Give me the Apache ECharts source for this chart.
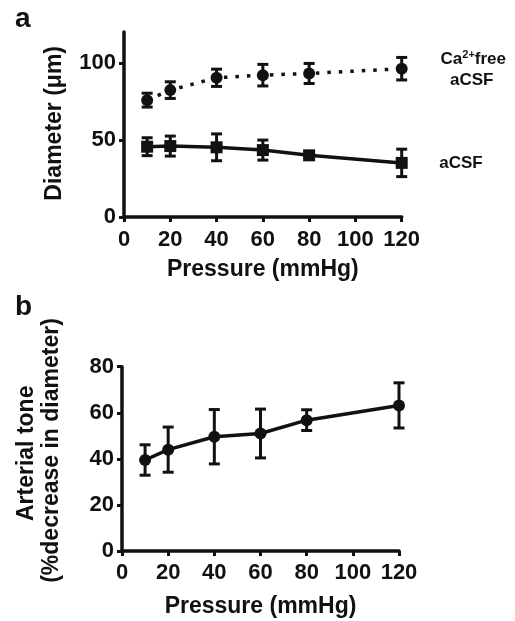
<!DOCTYPE html>
<html>
<head>
<meta charset="utf-8">
<script src="https://cdn.jsdelivr.net/npm/echarts@6/dist/echarts.min.js"></script>
<style>
html,body{margin:0;padding:0;background:#fff;}
#chart{width:515px;height:621px;}
</style>
</head>
<body>
<div id="chart"></div>
<script>
// ---- data ----
const pressure = [10, 20, 40, 60, 80, 120];
const caFreeMean = [75.8, 82.3, 90.3, 92, 93.1, 96.2];
const caFreeErr  = [4.5, 5.4, 5.6, 7, 6.5, 7.3];
const acsfMean   = [45.6, 46, 45.2, 43.4, 40, 35.1];
const acsfErr    = [5.8, 6.5, 8.7, 6.5, 1.5, 8.9];
const toneMean   = [39.5, 44, 49.6, 51, 56.8, 63.2];
const toneErr    = [6.6, 9.8, 11.8, 10.6, 4.5, 9.8];
const xTicks  = [0, 20, 40, 60, 80, 100, 120];
const yTicksA = [0, 50, 100];
const yTicksB = [0, 20, 40, 60, 80];
const labelA = 'a', labelB = 'b';
const xTitle = 'Pressure (mmHg)';
const yTitleA = 'Diameter (μm)';
const yTitleB1 = 'Arterial tone';
const yTitleB2 = '(%decrease in diameter)';

// ---- styling ----
const INK = '#111';
const FONT = 'Liberation Sans, Arial, Helvetica, sans-serif';

function pts(means) { return pressure.map((p, i) => [p, means[i]]); }
function errPts(means, errs) { return pressure.map((p, i) => [p, means[i], errs[i]]); }

function errRender(params, api) {
  const x = api.value(0), m = api.value(1), e = api.value(2);
  const top = api.coord([x, m + e]);
  const bot = api.coord([x, m - e]);
  const hw = 5.5;
  const style = { stroke: INK, lineWidth: 3 };
  return {
    type: 'group',
    children: [
      { type: 'line', shape: { x1: top[0], y1: top[1], x2: bot[0], y2: bot[1] }, style },
      { type: 'line', shape: { x1: top[0] - hw, y1: top[1], x2: top[0] + hw, y2: top[1] }, style },
      { type: 'line', shape: { x1: bot[0] - hw, y1: bot[1], x2: bot[0] + hw, y2: bot[1] }, style }
    ]
  };
}

function xAxisCfg(gridIndex, margin, gap) {
  return {
    type: 'value', gridIndex, min: 0, max: 120, interval: 20,
    axisLine: { show: true, onZero: false, lineStyle: { color: INK, width: 3.5 } },
    axisTick: { show: true, length: 5, lineStyle: { color: INK, width: 3 }, customValues: xTicks },
    axisLabel: { customValues: xTicks, margin, fontSize: 22, fontWeight: 'bold', color: INK, fontFamily: FONT },
    splitLine: { show: false },
    name: xTitle, nameLocation: 'middle', nameGap: gap,
    nameTextStyle: { fontSize: 23, fontWeight: 'bold', color: INK, fontFamily: FONT }
  };
}
function yAxisCfg(gridIndex, max, interval, ticks) {
  return {
    type: 'value', gridIndex, min: 0, max, interval,
    axisLine: { show: true, onZero: false, lineStyle: { color: INK, width: 3.5 } },
    axisTick: { show: true, length: 5, lineStyle: { color: INK, width: 3 }, customValues: ticks },
    axisLabel: { customValues: ticks, margin: 8, fontSize: 22, fontWeight: 'bold', color: INK, fontFamily: FONT },
    splitLine: { show: false }
  };
}
function txt(text, x, y, size, opts) {
  opts = opts || {};
  return {
    type: 'text', x, y, rotation: opts.rot || 0, silent: true,
    style: Object.assign({
      text, fill: INK, fontSize: size, fontWeight: 'bold', fontFamily: FONT,
      textAlign: opts.align || 'center', align: opts.align || 'center',
      textVerticalAlign: 'middle', verticalAlign: 'middle'
    }, opts.style || {})
  };
}

const chart = echarts.init(document.getElementById('chart'), null, { renderer: 'canvas' });
chart.setOption({
  animation: false,
  backgroundColor: '#fff',
  grid: [
    { left: 124, top: 32, width: 277.7, height: 185, outerBoundsMode: 'none', containLabel: false },
    { left: 122, top: 366.7, width: 277, height: 184.3, outerBoundsMode: 'none', containLabel: false }
  ],
  xAxis: [ xAxisCfg(0, 12, 41), xAxisCfg(1, 11, 43.7) ],
  yAxis: [ yAxisCfg(0, 120, 50, yTicksA), yAxisCfg(1, 80, 20, yTicksB) ],
  series: [
    { type: 'custom', xAxisIndex: 0, yAxisIndex: 0, renderItem: errRender,
      data: errPts(caFreeMean, caFreeErr), encode: { x: 0, y: 1 }, z: 2 },
    { type: 'custom', xAxisIndex: 0, yAxisIndex: 0, renderItem: errRender,
      data: errPts(acsfMean, acsfErr), encode: { x: 0, y: 1 }, z: 2 },
    { type: 'custom', xAxisIndex: 1, yAxisIndex: 1, renderItem: errRender,
      data: errPts(toneMean, toneErr), encode: { x: 0, y: 1 }, z: 2 },
    { type: 'line', xAxisIndex: 0, yAxisIndex: 0, data: pts(caFreeMean),
      symbol: 'circle', symbolSize: 12, itemStyle: { color: INK },
      lineStyle: { color: INK, width: 3.5, type: [3.5, 8] }, z: 3 },
    { type: 'line', xAxisIndex: 0, yAxisIndex: 0, data: pts(acsfMean),
      symbol: 'rect', symbolSize: 12, itemStyle: { color: INK },
      lineStyle: { color: INK, width: 3.5 }, z: 3 },
    { type: 'line', xAxisIndex: 1, yAxisIndex: 1, data: pts(toneMean),
      symbol: 'circle', symbolSize: 12, itemStyle: { color: INK },
      lineStyle: { color: INK, width: 3.5 }, z: 3 }
  ],
  graphic: [
    txt(labelA, 15, 19.6, 28, { align: 'left' }),
    txt(labelB, 15, 307.3, 28, { align: 'left' }),
    txt(yTitleA, 54.6, 123.3, 23, { rot: Math.PI / 2 }),
    txt(yTitleB1, 26.2, 453.3, 23, { rot: Math.PI / 2 }),
    txt(yTitleB2, 51.2, 450.5, 23, { rot: Math.PI / 2 }),
    txt('Ca{sup|2+}free', 473.3, 59.5, 17, { style: { lineHeight: 20,
      rich: { sup: { fontSize: 11, fontWeight: 'bold', fontFamily: FONT, fill: INK, verticalAlign: 'top', lineHeight: 11 } } } }),
    txt('aCSF', 471.7, 80.4, 17),
    txt('aCSF', 439.3, 163, 17, { align: 'left' })
  ]
});
</script>
</body>
</html>
